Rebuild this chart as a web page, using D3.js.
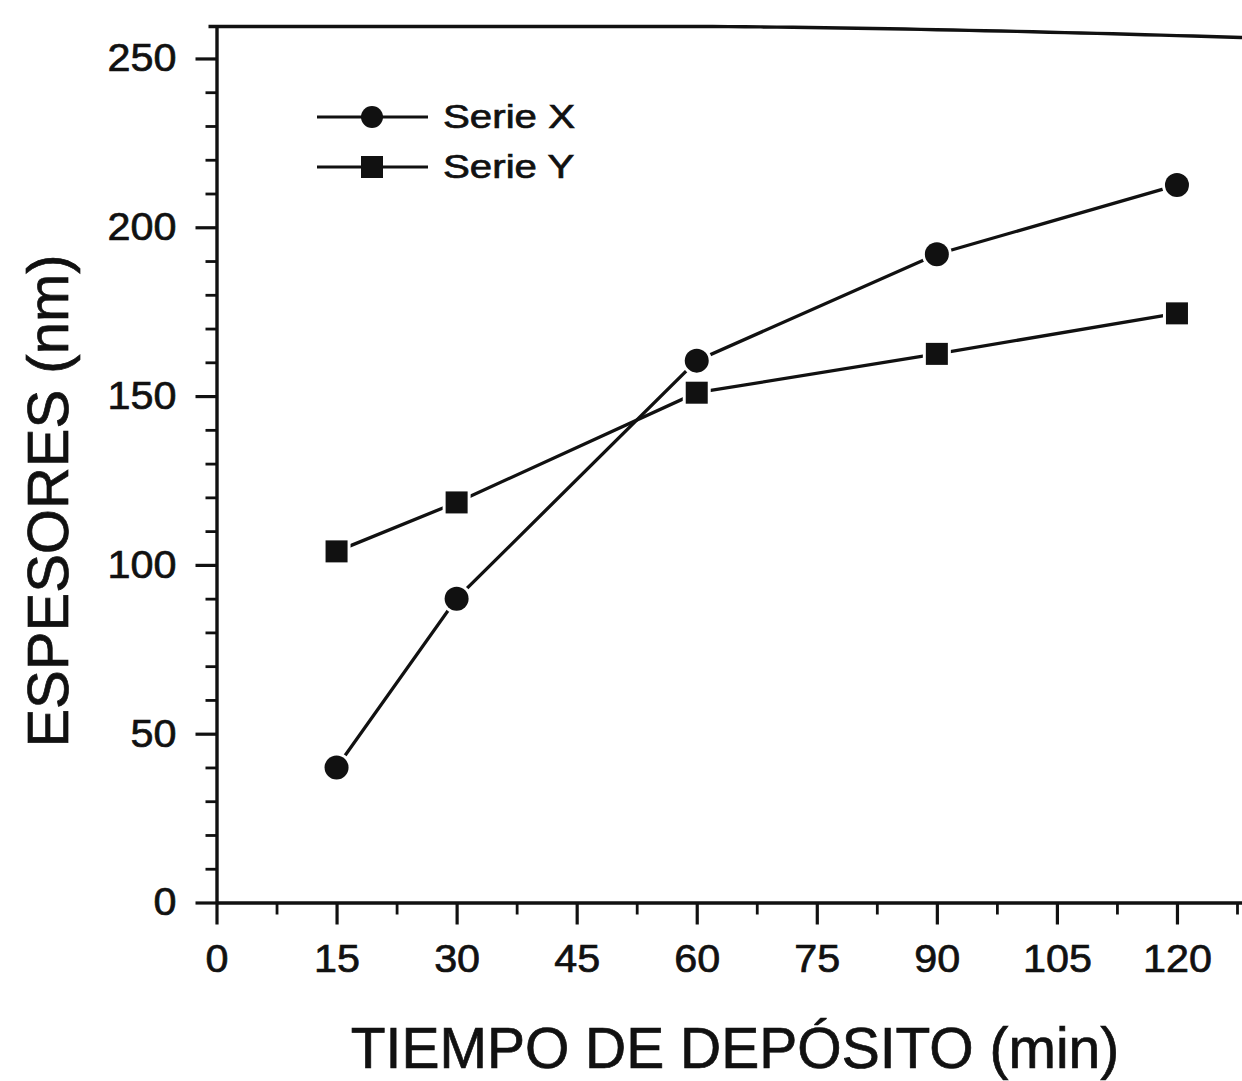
<!DOCTYPE html>
<html>
<head>
<meta charset="utf-8">
<script src="https://cdn.jsdelivr.net/npm/d3@7"></script>
<style>
  html, body { margin: 0; padding: 0; background: #fff; }
  svg { display: block; font-family: "Liberation Sans", Arial, Helvetica, sans-serif; }
  text { stroke: #111; stroke-width: 0.7px; }
</style>
</head>
<body>
<svg id="chart" width="1242" height="1081"></svg>
<script>
// Deposition time (min) and measured thicknesses (nm)
const times = [15, 30, 60, 90, 120];
const serieX = [40, 90, 160.5, 192, 212.5];
const serieY = [104, 118.5, 151, 162.5, 174.5];
const seriesNames = ["Serie X", "Serie Y"];
const xMajorTicks = [0, 15, 30, 45, 60, 75, 90, 105, 120];
const yMajorTicks = [0, 50, 100, 150, 200, 250];
const xTitle = "TIEMPO DE DEPÓSITO (min)";
const yTitle = "ESPESORES (nm)";

const svg = d3.select("#chart");
const ink = "#111";

const x = d3.scaleLinear().domain([0, 130]).range([216.5, 1257]);
const y = d3.scaleLinear().domain([0, 260]).range([902.5, 24.7]);

const xMinor = d3.range(7.5, 130, 15);
const yMinor = d3.range(10, 260, 10).filter(v => v % 50 !== 0);

const tickFont = 39, tickStretch = 1.06;

// minor ticks
svg.append("g")
  .attr("transform", `translate(0,${y(0)})`)
  .call(d3.axisBottom(x).tickValues(xMinor).tickSize(12).tickFormat(""))
  .call(g => g.select(".domain").remove())
  .call(g => g.selectAll("line").attr("stroke", ink).attr("stroke-width", 2.8));
svg.append("g")
  .attr("transform", `translate(${x(0)},0)`)
  .call(d3.axisLeft(y).tickValues(yMinor).tickSize(11).tickFormat(""))
  .call(g => g.select(".domain").remove())
  .call(g => g.selectAll("line").attr("stroke", ink).attr("stroke-width", 2.8));

// major axes
const xAxis = svg.append("g")
  .attr("transform", `translate(0,${y(0)})`)
  .call(d3.axisBottom(x).tickValues(xMajorTicks).tickSize(22).tickSizeOuter(0).tickPadding(20));
const yAxis = svg.append("g")
  .attr("transform", `translate(${x(0)},0)`)
  .call(d3.axisLeft(y).tickValues(yMajorTicks).tickSize(21).tickSizeOuter(0).tickPadding(19));

[xAxis, yAxis].forEach(g => {
  g.select(".domain").attr("stroke", ink).attr("stroke-width", 3.4);
  g.selectAll(".tick line").attr("stroke", ink).attr("stroke-width", 3.2);
  g.selectAll(".tick text")
    .attr("fill", ink)
    .attr("font-size", tickFont)
    .attr("font-family", '"Liberation Sans", Arial, sans-serif')
    .attr("transform", `scale(${tickStretch},1)`);
});
yAxis.selectAll(".tick text").attr("x", -40 / tickStretch);

// top frame edge, slightly warped toward the right
const topPts = d3.range(0, 131, 2).map(v => {
  const px = x(v);
  const t = Math.max(0, (px - 700) / 542);
  return [px, y(260) + 1.8 + 11 * Math.pow(t, 1.5)];
});
topPts.unshift([x(0) - 8, y(260) + 1.8]);
svg.append("path")
  .attr("d", d3.line()(topPts))
  .attr("fill", "none")
  .attr("stroke", ink)
  .attr("stroke-width", 3.4);

// series lines
const line = d3.line().x(d => x(d[0])).y(d => y(d[1]));
const dataX = times.map((t, i) => [t, serieX[i]]);
const dataY = times.map((t, i) => [t, serieY[i]]);

[dataX, dataY].forEach(data => {
  svg.append("path")
    .attr("d", line(data))
    .attr("fill", "none")
    .attr("stroke", ink)
    .attr("stroke-width", 3.3);
});

// markers with a thin white halo so lines stop short of them
const R = 12, S = 22;
svg.append("g").selectAll("circle").data(dataX).join("circle")
  .attr("cx", d => x(d[0])).attr("cy", d => y(d[1])).attr("r", R)
  .attr("fill", ink).attr("stroke", "#fff").attr("stroke-width", 6)
  .attr("paint-order", "stroke");
svg.append("g").selectAll("rect").data(dataY).join("rect")
  .attr("x", d => x(d[0]) - S / 2).attr("y", d => y(d[1]) - S / 2)
  .attr("width", S).attr("height", S)
  .attr("fill", ink).attr("stroke", "#fff").attr("stroke-width", 6)
  .attr("paint-order", "stroke");

// legend
const legend = svg.append("g");
const legendRows = [
  { name: seriesNames[0], shape: "circle", cy: 117 },
  { name: seriesNames[1], shape: "square", cy: 167 }
];
legendRows.forEach(r => {
  legend.append("line")
    .attr("x1", 317).attr("x2", 428).attr("y1", r.cy).attr("y2", r.cy)
    .attr("stroke", ink).attr("stroke-width", 3.2);
  if (r.shape === "circle") {
    legend.append("circle").attr("cx", 372).attr("cy", r.cy).attr("r", 11).attr("fill", ink);
  } else {
    legend.append("rect").attr("x", 372 - 11).attr("y", r.cy - 11)
      .attr("width", 22).attr("height", 22).attr("fill", ink);
  }
  legend.append("g")
    .attr("transform", `translate(443,${r.cy + 11})`)
    .append("text")
    .attr("transform", "scale(1.22,1)")
    .attr("font-size", 33)
    .attr("fill", ink)
    .text(r.name);
});

// axis titles
svg.append("text")
  .attr("x", 735).attr("y", 1068)
  .attr("text-anchor", "middle")
  .attr("font-size", 57)
  .attr("fill", ink)
  .text(xTitle);

svg.append("text")
  .attr("transform", "translate(68,501) rotate(-90)")
  .attr("text-anchor", "middle")
  .attr("font-size", 58)
  .attr("fill", ink)
  .text(yTitle);
</script>
</body>
</html>
